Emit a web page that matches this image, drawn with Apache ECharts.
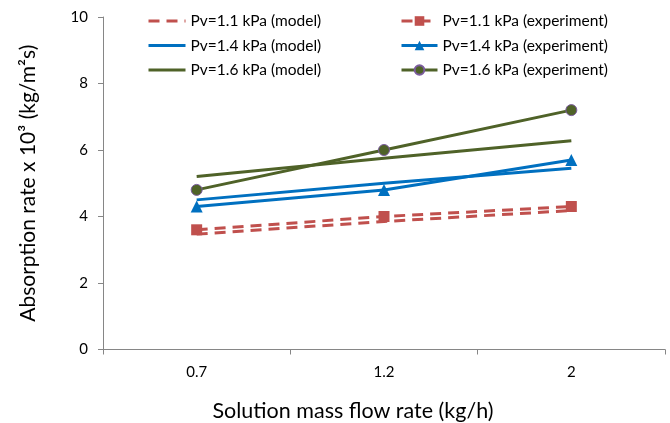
<!DOCTYPE html>
<html><head><meta charset="utf-8">
<script src="https://cdn.jsdelivr.net/npm/echarts@6/dist/echarts.min.js"></script>
<style>html,body{margin:0;padding:0;background:#fff}#c{width:670px;height:423px}</style>
</head><body><div id="c"></div>
<script>
var categories = ['0.7', '1.2', '2'];
var model11 = [3.47, 3.85, 4.18];
var model14 = [4.5, 5.0, 5.45];
var model16 = [5.2, 5.75, 6.28];
var exp11 = [3.6, 4.0, 4.3];
var exp14 = [4.3, 4.8, 5.7];
var exp16 = [4.8, 6.0, 7.2];
var yTicks = [0, 2, 4, 6, 8, 10];

var RED = '#C0504D', BLUE = '#0070C0', GREEN = '#4F6228';
var FONT = 'Lato, "Open Sans", sans-serif';

function line(name, data, color, dashed, symbol, extra) {
  var s = {
    name: name, type: 'line', data: data,
    lineStyle: { color: color, width: 3, type: dashed ? [11, 7] : 'solid' },
    itemStyle: symbol ? { color: color } : { color: color, opacity: 0 },
    symbol: symbol || 'circle', symbolSize: 10, showSymbol: !!symbol,
    animation: false, z: symbol ? 3 : 2
  };
  if (extra) for (var k in extra) s[k] = extra[k];
  return s;
}

var legendBase = {
  top: 12, orient: 'vertical', itemWidth: 37, itemHeight: 12, itemGap: 6.5, padding: 0,
  lineStyle: { width: 3 },
  textStyle: { fontFamily: FONT, fontSize: 15.5, color: '#000', lineHeight: 18 }
};

var chart = echarts.init(document.getElementById('c'));
chart.setOption({
  backgroundColor: '#fff',
  animation: false,
  grid: { left: 103, right: 5, top: 17, bottom: 73.5, outerBoundsMode: 'none', containLabel: false },
  legend: [
    Object.assign({}, legendBase, { left: 147,
      data: ['Pv=1.1 kPa (model)', 'Pv=1.4 kPa (model)', 'Pv=1.6 kPa (model)'] }),
    Object.assign({}, legendBase, { left: 400, itemWidth: 36,
      data: ['Pv=1.1 kPa (experiment)', 'Pv=1.4 kPa (experiment)', 'Pv=1.6 kPa (experiment)'] })
  ],
  xAxis: {
    type: 'category', data: categories, boundaryGap: true,
    name: 'Solution mass flow rate (kg/h)', nameLocation: 'middle', nameGap: 51,
    nameTextStyle: { fontFamily: FONT, fontSize: 21.5, color: '#000', padding: [0, 62, 0, 0] },
    axisLine: { lineStyle: { color: '#868686', width: 1 } },
    axisTick: { show: true, length: 5, lineStyle: { color: '#868686' } },
    axisLabel: { fontFamily: FONT, fontSize: 15, color: '#000', margin: 15 }
  },
  yAxis: {
    type: 'value', min: yTicks[0], max: yTicks[yTicks.length - 1], interval: 2,
    name: 'Absorption rate x 10\u00B3 (kg/m\u00B2s)', nameLocation: 'middle', nameGap: 64,
    nameTextStyle: { fontFamily: FONT, fontSize: 21, color: '#000' },
    axisLine: { show: true, lineStyle: { color: '#868686', width: 1 } },
    axisTick: { show: true, length: 5, lineStyle: { color: '#868686' } },
    axisLabel: { fontFamily: FONT, fontSize: 15, color: '#000', margin: 15 },
    splitLine: { show: false }
  },
  series: [
    line('Pv=1.1 kPa (model)', model11, RED, true),
    line('Pv=1.4 kPa (model)', model14, BLUE, false),
    line('Pv=1.6 kPa (model)', model16, GREEN, false),
    line('Pv=1.1 kPa (experiment)', exp11, RED, true, 'rect', { symbolSize: 11 }),
    line('Pv=1.4 kPa (experiment)', exp14, BLUE, false, 'triangle', { symbolSize: 12 }),
    line('Pv=1.6 kPa (experiment)', exp16, GREEN, false, 'circle',
      { symbolSize: 11, itemStyle: { color: GREEN, borderColor: '#7B5C9E', borderWidth: 1 } })
  ]
});
</script></body></html>
